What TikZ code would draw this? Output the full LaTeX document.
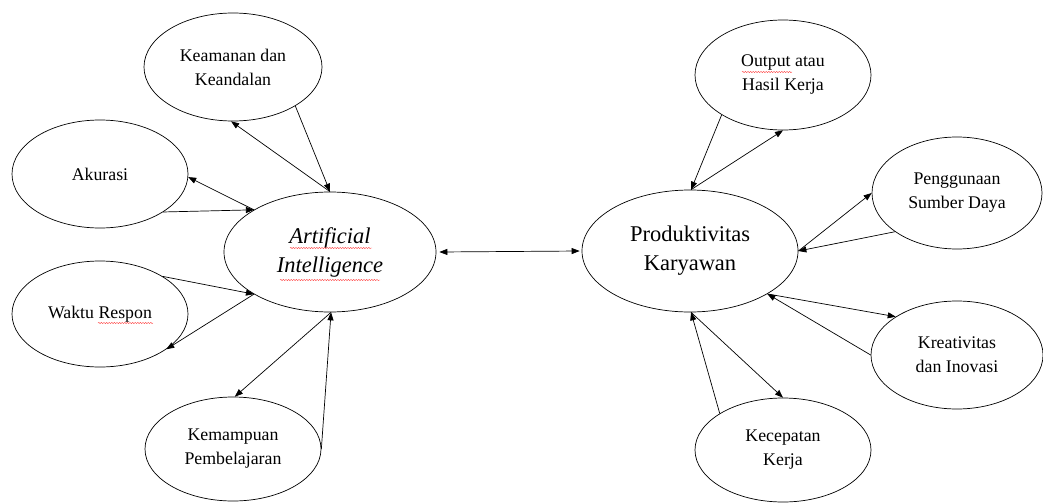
\documentclass[tikz,border=0pt]{standalone}
\usepackage{fontspec}
\setmainfont{Liberation Serif}
\usetikzlibrary{shapes.geometric,arrows.meta,decorations.pathmorphing}
\begin{document}
\begin{tikzpicture}[x=1pt,y=-1pt,
  bub/.style={draw,ellipse,inner sep=0pt,line width=0.7pt,align=center,font=\fontsize{17.8}{24}\selectfont},
  big/.style={draw,ellipse,inner sep=0pt,line width=0.7pt,align=center,font=\fontsize{22.5}{29}\selectfont},
  arr/.style={line width=0.7pt,-{Triangle[length=8pt,width=6pt]}},
  dbl/.style={line width=0.7pt,{Triangle[length=8pt,width=6pt]}-{Triangle[length=8pt,width=6pt]}},
  squig/.style={red!70,line width=0.4pt,decorate,decoration={snake,amplitude=0.7pt,segment length=2.6pt}}]
\useasboundingbox (0,0) rectangle (1043,503);
\fill[white] (0,0) rectangle (1043,503);
% left side
\node[bub,minimum width=178pt,minimum height=108pt] (kk) at (233,67) {Keamanan dan\\Keandalan};
\node[bub,minimum width=176pt,minimum height=108pt] (ak) at (100,174) {Akurasi};
\node[big,minimum width=212pt,minimum height=120pt,font=\fontsize{22.5}{29}\selectfont\itshape] (ai) at (330,252) {Artificial\\Intelligence};
\node[bub,minimum width=176pt,minimum height=106pt] (wr) at (100,314) {Waktu Respon};
\node[bub,minimum width=176pt,minimum height=104pt] (kp) at (233,449) {Kemampuan\\Pembelajaran};
% right side
\node[bub,minimum width=176pt,minimum height=110pt] (ou) at (783,75) {Output atau\\Hasil Kerja};
\node[bub,minimum width=170pt,minimum height=112pt] (pg) at (957,193) {Penggunaan\\Sumber Daya};
\node[big,minimum width=216pt,minimum height=122pt] (pk) at (690,251) {Produktivitas\\Karyawan};
\node[bub,minimum width=172pt,minimum height=108pt] (kr) at (957,355) {Kreativitas\\dan Inovasi};
\node[bub,minimum width=176pt,minimum height=104pt] (kc) at (783,450) {Kecepatan\\Kerja};
% connectors left
\draw[arr] (kk.-32) -- (ai.90);
\draw[arr] (ai.90) -- (kk.268);
\draw[arr] (ak.-31) -- (ai.151);
\draw[arr] (ai.151) -- (ak.-2);
\draw[arr] (wr.31) -- (ai.209);
\draw[arr] (ai.209) -- (wr.-28);
\draw[arr] (kp.0) -- (ai.271);
\draw[arr] (ai.271) -- (kp.88);
% middle
\draw[dbl] ([xshift=3pt]ai.0) -- ([xshift=-2pt]pk.180);
% connectors right
\draw[arr] (ou.213) -- (pk.89);
\draw[arr] (pk.89) -- (ou.270);
\draw[arr] (pk.0) -- (pg.180);
\draw[arr] (pg.212) -- (pk.0);
\draw[arr] (pk.-29) -- (kr.148);
\draw[arr] (kr.180) -- (pk.-29);
\draw[arr] (kc.150) -- (pk.271);
\draw[arr] (pk.271) -- (kc.90);
% spell-check squiggles
\draw[squig] (290,248) -- (372,248);
\draw[squig] (280,280) -- (380,280);
\draw[squig] (98,323) -- (153,323);
\draw[squig] (742,72) -- (792,72);
\end{tikzpicture}
\end{document}
